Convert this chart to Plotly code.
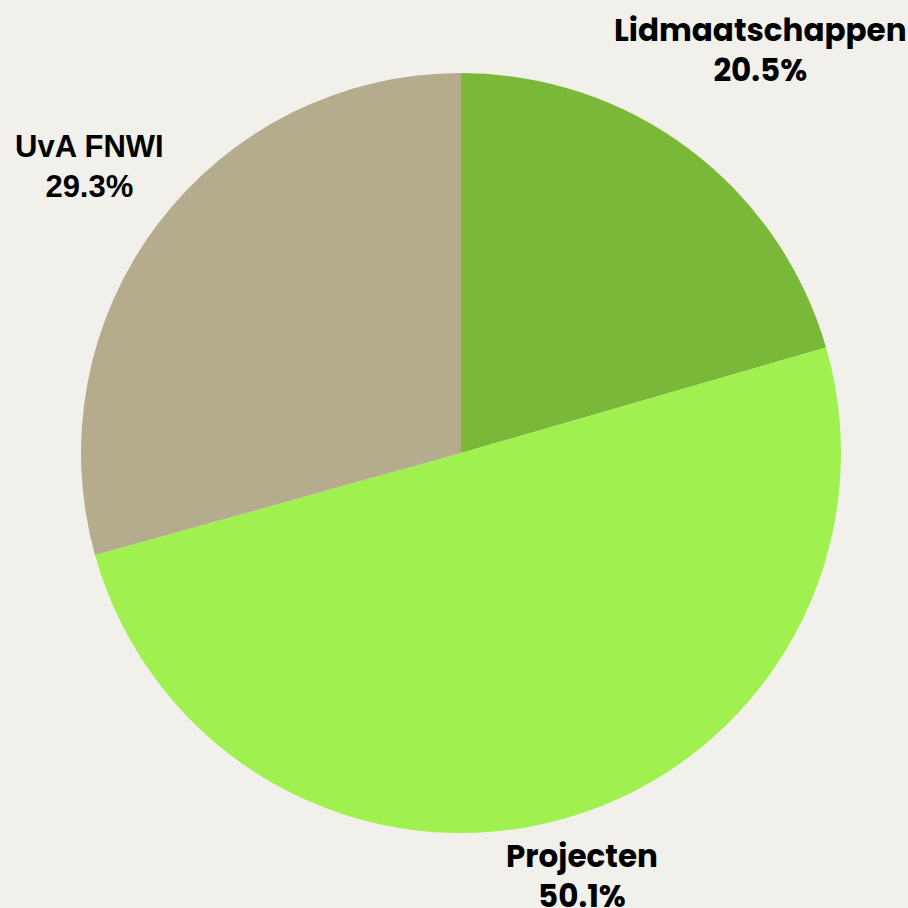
import math
import plotly.graph_objects as go

labels = ["Lidmaatschappen", "Projecten", "UvA FNWI"]
values = [20.5, 50.1, 29.3]
colors = ["#7AB83A", "#A0F050", "#B5AB8D"]
fonts = ["Poppins, Inter, sans-serif", "Poppins, Inter, sans-serif", "Liberation Sans, Arial, sans-serif"]

W = H = 908
FONT_SIZE = 31
dom_x = [81 / W, 841 / W]
dom_y = [1 - 833 / H, 1 - 73 / H]

fig = go.Figure(go.Pie(
    labels=labels,
    values=values,
    sort=False,
    direction="clockwise",
    rotation=0,
    marker=dict(colors=colors, line=dict(width=0)),
    textinfo="none",
    hoverinfo="label+percent",
    showlegend=False,
    domain=dict(x=dom_x, y=dom_y),
))

# labels placed outside each slice along its mid-angle (derived from the data)
cx = (dom_x[0] + dom_x[1]) / 2 * W
cy = (1 - (dom_y[0] + dom_y[1]) / 2) * H
R = min((dom_x[1] - dom_x[0]) * W, (dom_y[1] - dom_y[0]) * H) / 2
total = sum(values)
cum = 0.0
for lab, val, fam in zip(labels, values, fonts):
    mid = (cum + val / 2) / total * 2 * math.pi
    cum += val
    ux, uy = math.sin(mid), -math.cos(mid)
    bw = len(lab) * 0.6 * FONT_SIZE
    bh = 2.5 * FONT_SIZE
    d = R + 4 + abs(ux) * bw / 2 + abs(uy) * bh / 2
    px, py = cx + ux * d, cy + uy * d
    fig.add_annotation(
        x=px / W, y=1 - py / H, xref="paper", yref="paper",
        xanchor="center", yanchor="middle", showarrow=False,
        yshift=4,
        text=f"<b>{lab}</b><br><b>{val:.1f}%</b>",
        font=dict(size=FONT_SIZE, color="#000000", family=fam),
        align="center",
    )

fig.update_layout(
    width=W, height=H,
    paper_bgcolor="#F1F0EB",
    plot_bgcolor="#F1F0EB",
    margin=dict(l=0, r=0, t=0, b=0),
)

fig.write_html(
    "out.html",
    config={"displayModeBar": False},
    post_script="document.body.style.margin='0';document.body.style.background='#F1F0EB';",
)
